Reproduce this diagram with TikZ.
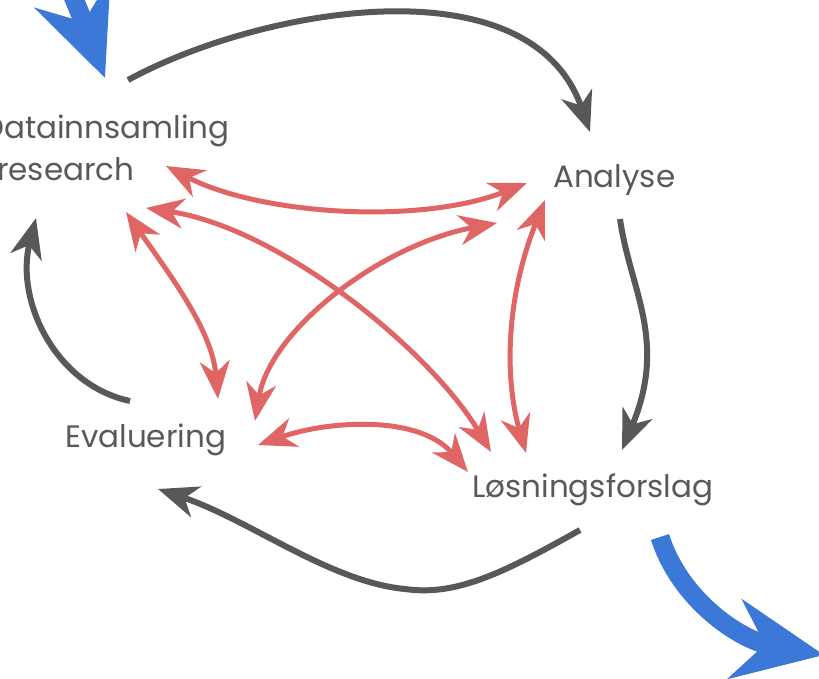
\documentclass[tikz,border=0pt]{standalone}
\usepackage{fontspec}
\setmainfont{Poppins}
\usetikzlibrary{arrows.meta}
\definecolor{txtgrey}{HTML}{595959}
\definecolor{flowgrey}{HTML}{585858}
\definecolor{linkred}{HTML}{E06666}
\definecolor{flowblue}{HTML}{3C78D8}
\tikzset{
  label/.style={anchor=base west, inner sep=0pt, text=txtgrey, font=\fontsize{31}{36}\selectfont},
  cycle/.style={draw=flowgrey, line width=6pt,
    -{Stealth[length=40pt, width=32pt, inset=12pt]}},
  link/.style={draw=linkred, line width=5pt,
    {Stealth[length=38pt, width=30pt, inset=12pt]}-{Stealth[length=38pt, width=30pt, inset=12pt]}},
  entry/.style={draw=flowblue, line width=19pt,
    -{Stealth[length=90pt, width=80pt, inset=30pt]}},
}
\begin{document}
\begin{tikzpicture}[x=1pt, y=-1pt]
\useasboundingbox (0,0) rectangle (819,678);

% stage labels
\node[label] (data)     at (-18,138) {Datainnsamling};
\node[label] (research) at (-3,180)  {research};
\node[label] (analyse)  at (553,187) {Analyse};
\node[label] (eval)     at (65,447)  {Evaluering};
\node[label] (losning)  at (472,497) {Løsningsforslag};

% connector end points around the labels
\coordinate (d-top)  at (128,80);
\coordinate (a-in)   at (590,132);
\coordinate (a-out)  at (620,219);
\coordinate (l-in)   at (622,450);
\coordinate (l-out)  at (580,530);
\coordinate (e-in)   at (158,489);
\coordinate (e-out)  at (130,401);
\coordinate (d-in)   at (36,218);

\coordinate (d-r1)   at (166,166);
\coordinate (d-r2)   at (146,208);
\coordinate (d-r3)   at (126,212);
\coordinate (a-l1)   at (527,183);
\coordinate (a-l2)   at (497,223);
\coordinate (a-l3)   at (545,200);
\coordinate (e-r1)   at (218,399);
\coordinate (e-r2)   at (255,421);
\coordinate (e-r3)   at (258,445);
\coordinate (l-l1)   at (468,472);
\coordinate (l-l2)   at (491,452);
\coordinate (l-l3)   at (526,453);

% main cycle
\draw[cycle] (d-top) .. controls (260,8) and (530,-40) .. (a-in);
\draw[cycle] (a-out) .. controls (630,290) and (668,340) .. (l-in);
\draw[cycle] (l-out) .. controls (500,575) and (455,596) .. (405,589)
                     .. controls (330,582) and (250,520) .. (e-in);
\draw[cycle] (e-out) .. controls (55,385) and (15,300) .. (d-in);

% cross links between stages
\draw[link] (d-r1) .. controls (260,215) and (420,225) .. (a-l1);
\draw[link] (d-r2) .. controls (280,228) and (430,350) .. (l-l2);
\draw[link] (d-r3) .. controls (170,275) and (212,330) .. (e-r1);
\draw[link] (e-r2) .. controls (270,330) and (380,245) .. (a-l2);
\draw[link] (a-l3) .. controls (505,300) and (505,380) .. (l-l3);
\draw[link] (e-r3) .. controls (330,420) and (420,415) .. (l-l1);

% entry and exit
\coordinate (in-start)  at (20,-110);
\coordinate (in-end)    at (105,78);
\coordinate (out-start) at (660,537);
\coordinate (out-end)   at (824,655);
\draw[entry] (in-start) .. controls (50,-60) and (75,0) .. (in-end);
\draw[entry] (out-start) .. controls (680,600) and (740,640) .. (out-end);
\end{tikzpicture}
\end{document}
